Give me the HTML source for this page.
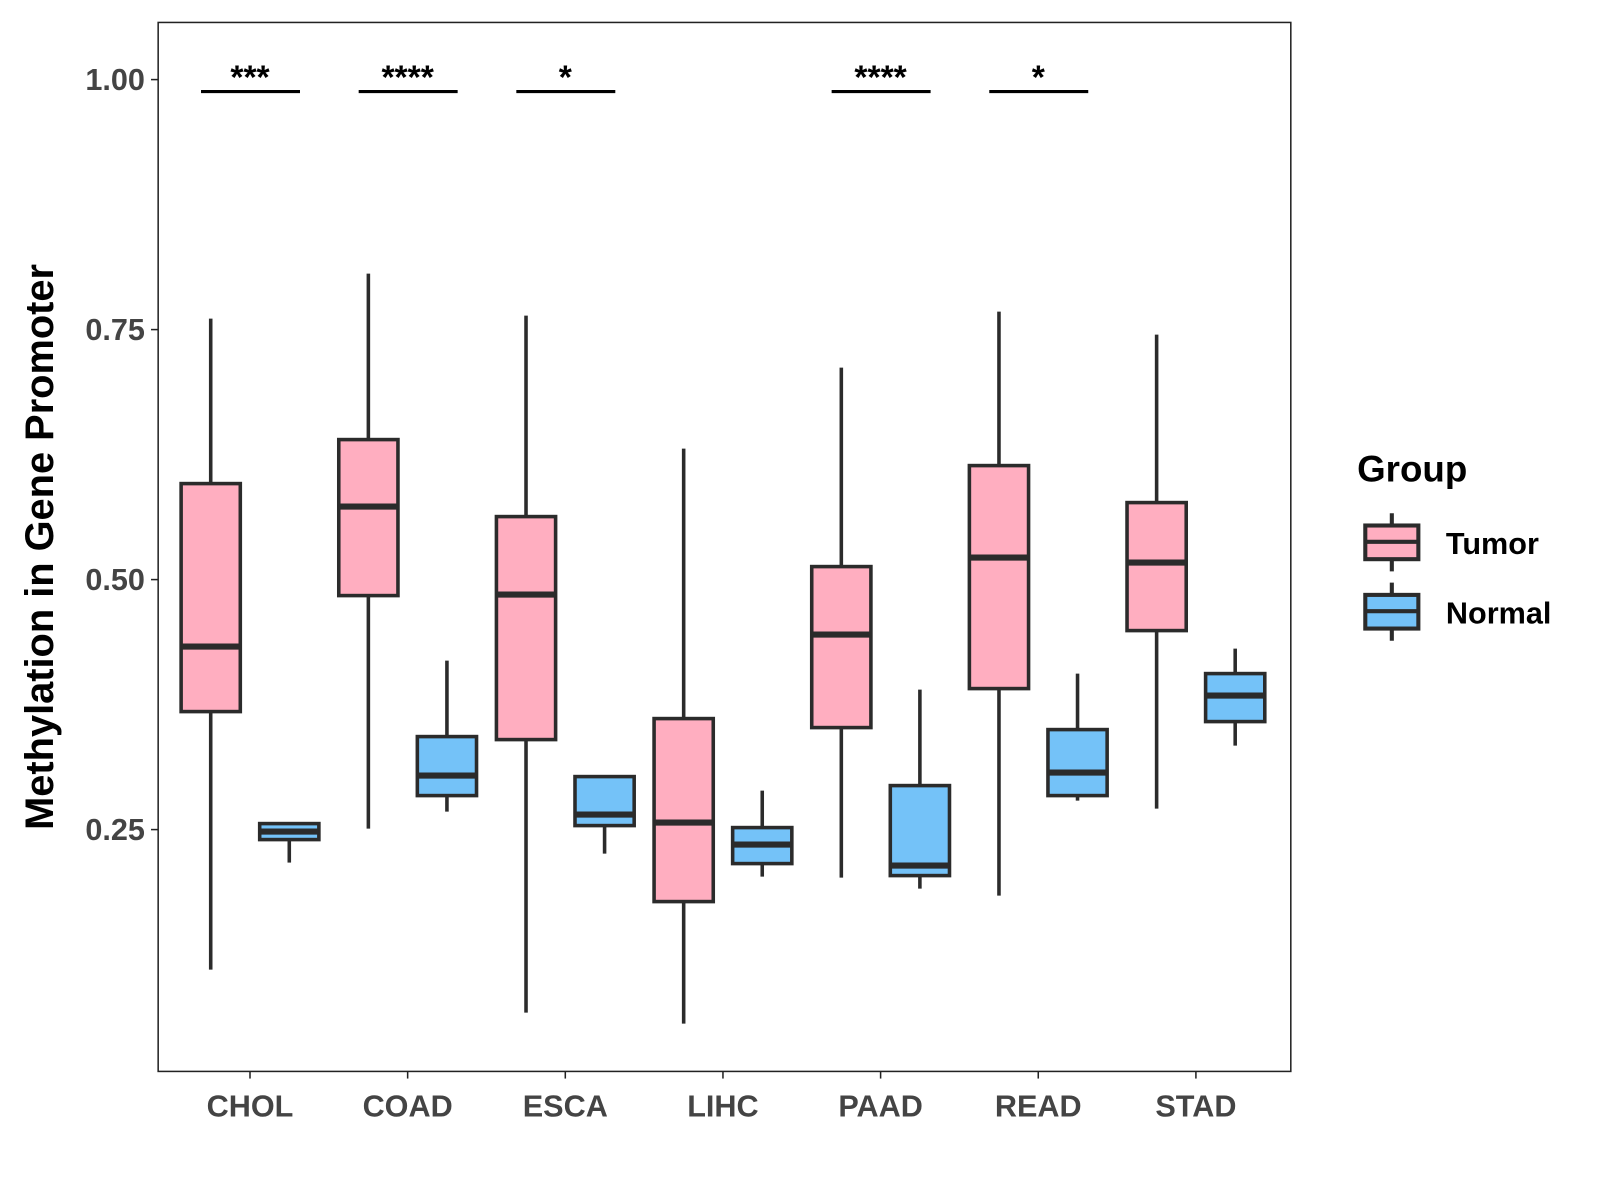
<!DOCTYPE html>
<html><head><meta charset="utf-8"><style>
body{margin:0;background:#fff;}
svg{display:block;font-family:"Liberation Sans",Arial,sans-serif;}
</style></head><body>
<svg id="chart" width="1600" height="1200" viewBox="0 0 1600 1200" xmlns="http://www.w3.org/2000/svg">
<rect x="0" y="0" width="1600" height="1200" fill="#fff"/>
<g transform="scale(1.0204)">
<rect x="155" y="22" width="1110" height="1028" fill="none" stroke="#222" stroke-width="1.5"/>
<g id="axes"></g>
<g id="marks"></g>
<text x="52" y="536" transform="rotate(-90 52 536)" text-anchor="middle" font-size="39" font-weight="bold" fill="#000">Methylation in Gene Promoter</text>
<g>
<text x="1330" y="472" font-size="36" font-weight="bold" fill="#000">Group</text>
<g>
<line x1="1364" y1="503" x2="1364" y2="560" stroke="#2b2b2b" stroke-width="4"/>
<rect x="1338" y="515" width="52" height="33" fill="#FFAEC0" stroke="#2b2b2b" stroke-width="4"/>
<line x1="1338" y1="531" x2="1390" y2="531" stroke="#2b2b2b" stroke-width="4"/>
<text x="1417" y="543" font-size="30" font-weight="bold" fill="#000">Tumor</text>
</g>
<g>
<line x1="1364" y1="571" x2="1364" y2="628" stroke="#2b2b2b" stroke-width="4"/>
<rect x="1338" y="583" width="52" height="33" fill="#74C2F8" stroke="#2b2b2b" stroke-width="4"/>
<line x1="1338" y1="599" x2="1390" y2="599" stroke="#2b2b2b" stroke-width="4"/>
<text x="1417" y="611" font-size="30" font-weight="bold" fill="#000">Normal</text>
</g>
</g>
</g>
</svg>
<script>
const categories = ["CHOL","COAD","ESCA","LIHC","PAAD","READ","STAD"];
// [min, q1, median, q3, max]
const tumorStats = [
 [0.110,0.368,0.433,0.596,0.761],
 [0.251,0.484,0.573,0.640,0.806],
 [0.067,0.340,0.485,0.563,0.764],
 [0.056,0.178,0.257,0.361,0.631],
 [0.202,0.352,0.445,0.513,0.712],
 [0.184,0.391,0.522,0.614,0.768],
 [0.271,0.449,0.517,0.577,0.745]
];
const normalStats = [
 [0.217,0.240,0.248,0.256,0.256],
 [0.268,0.284,0.304,0.343,0.419],
 [0.226,0.254,0.265,0.303,0.303],
 [0.203,0.216,0.235,0.252,0.289],
 [0.191,0.204,0.214,0.294,0.390],
 [0.279,0.284,0.307,0.350,0.406],
 [0.334,0.358,0.384,0.406,0.431]
];
const sigLabels = ["***","****","*","","****","*",""];
const yTicks = [0.25,0.50,0.75,1.00];
const yTickLabels = ["0.25","0.50","0.75","1.00"];
const sigLevel = 0.988;

const NS="http://www.w3.org/2000/svg";
const y = v => 78 + (1 - v) * 980;
const xc = i => 245 + i * 154.5;
const axes=document.getElementById('axes'), marks=document.getElementById('marks');
function mk(tag,attrs,parent){const e=document.createElementNS(NS,tag);for(const k in attrs)e.setAttribute(k,attrs[k]);parent.appendChild(e);return e;}

yTicks.forEach((t,i)=>{
  const l=mk('line',{x1:148,x2:155,y1:y(t),y2:y(t),stroke:'#222','stroke-width':1.5},axes);
  
  
  const tx=mk('text',{x:142,y:y(t)+10,'text-anchor':'end','font-size':30,'font-weight':'bold',fill:'#444'},axes);
  tx.textContent=yTickLabels[i];
  
  
});
categories.forEach((c,i)=>{
  const l=mk('line',{x1:xc(i),x2:xc(i),y1:1050,y2:1057,stroke:'#222','stroke-width':1.5},axes);
  
  
  const tx=mk('text',{x:xc(i),y:1094,'text-anchor':'middle','font-size':30,'font-weight':'bold',fill:'#444'},axes);
  tx.textContent=c;
  
  
});
function box(cx,s,fill,name){
  const g=mk('g',{},marks);
  
  
  const w=29;
  mk('line',{x1:cx,x2:cx,y1:y(s[0]),y2:y(s[4]),stroke:'#2b2b2b','stroke-width':3.5},g);
  mk('rect',{x:cx-w,y:y(s[3]),width:2*w,height:Math.max(y(s[1])-y(s[3]),0.5),fill:fill,stroke:'#2b2b2b','stroke-width':3.5},g);
  mk('line',{x1:cx-w,x2:cx+w,y1:y(s[2]),y2:y(s[2]),stroke:'#2b2b2b','stroke-width':6},g);
}
categories.forEach((c,i)=>{
  box(xc(i)-38.5,tumorStats[i],'#FFAEC0','box-'+c.toLowerCase()+'-tumor');
  box(xc(i)+38.5,normalStats[i],'#74C2F8','box-'+c.toLowerCase()+'-normal');
  if(sigLabels[i]){
    const l=mk('line',{x1:xc(i)-48,x2:xc(i)+49,y1:y(sigLevel),y2:y(sigLevel),stroke:'#000','stroke-width':3},marks);
    
    
    const t=mk('text',{x:xc(i),y:y(sigLevel)-3,'text-anchor':'middle','font-size':33,'font-weight':'bold',fill:'#000'},marks);
    t.textContent=sigLabels[i];
    
    
  }
});
</script>
</body></html>
